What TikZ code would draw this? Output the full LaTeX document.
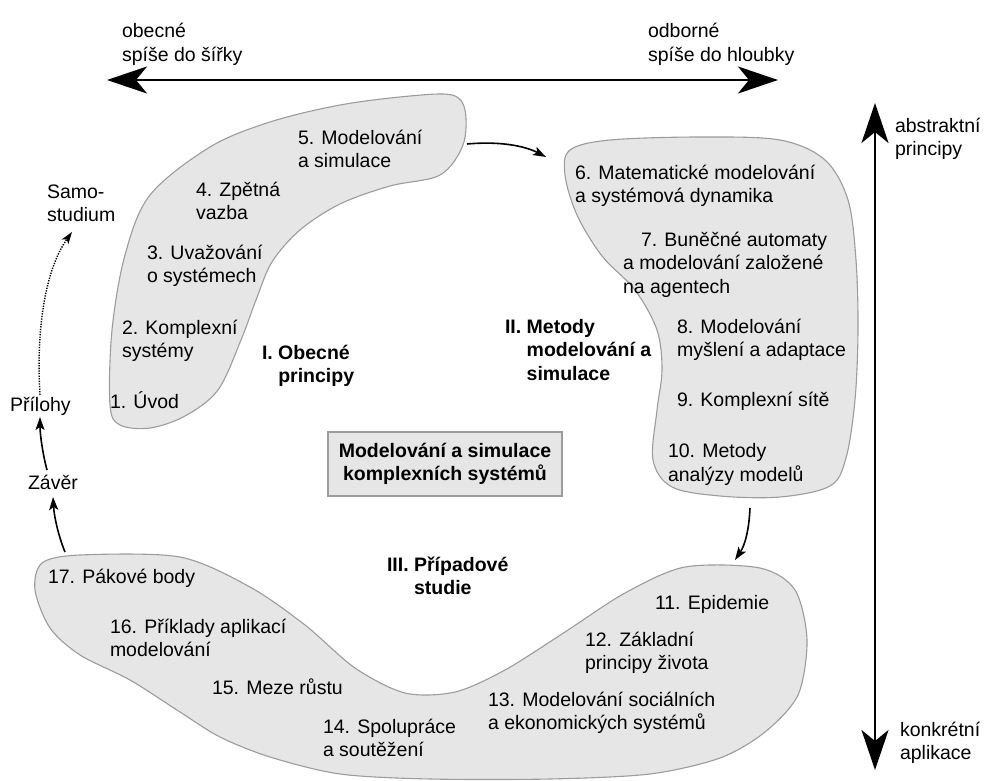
\documentclass[tikz,border=0pt]{standalone}
\usepackage{fontspec}
\setmainfont{Liberation Sans}
\usetikzlibrary{arrows.meta}
\definecolor{blobfill}{HTML}{E6E6E6}
\definecolor{blobline}{HTML}{9C9C9C}
\begin{document}
\begin{tikzpicture}[x=1pt,y=-1pt,
  every node/.style={inner sep=0pt, outer sep=0pt, font=\fontsize{19.5}{23.5}\selectfont},
  lbl/.style={anchor=base west, align=left},
  part/.style={anchor=base west, align=left, font=\fontsize{19.5}{23.5}\selectfont\bfseries},
  blob/.style={fill=blobfill, draw=blobline, line width=1.1pt},
  axis/.style={line width=2.6pt, {Stealth[length=40pt,width=27pt,inset=11pt]}-{Stealth[length=40pt,width=27pt,inset=11pt]}},
  flow/.style={line width=1.6pt, -{Stealth[length=13pt,width=9pt,inset=3pt]}},
  dotflow/.style={line width=1.4pt, dash pattern=on 1.3pt off 1.3pt, -{Stealth[length=12pt,width=8pt,inset=3pt]}}
]
\useasboundingbox (0,0) rectangle (990,781);

% blobs
\path[blob] plot[smooth cycle, tension=0.55] coordinates {
 (150,195) (210,147) (270,122) (340,105) (410,96) (452,95) (465,110) (463,145)
 (440,175) (390,186) (340,204) (300,230) (272,262) (256,300) (241,340) (218,390)
 (185,416) (150,428) (120,425) (110,405) (112,330) (125,255)};
\path[blob] plot[smooth cycle, tension=0.55] coordinates {
 (570,150) (610,140) (700,137) (780,140) (825,160) (848,200) (856,260) (858,330)
 (855,400) (846,458) (830,486) (780,497) (720,496) (672,487) (653,460) (657,410)
 (662,370) (657,330) (635,290) (602,256) (577,215) (565,175)};
\path[blob] plot[smooth cycle, tension=0.5] coordinates {
 (42,563) (80,555) (180,557) (250,587) (305,625) (355,668) (405,693) (455,692)
 (505,670) (565,632) (625,593) (685,567) (760,568) (795,590) (807,640) (798,695)
 (765,732) (720,758) (650,774) (550,779) (430,779) (340,774) (270,757) (220,737)
 (180,712) (130,680) (80,655) (50,628) (35,590)};

% centre box
\node[draw=blobline, fill=blobfill, line width=1.1pt, minimum width=234pt, minimum height=64pt,
      align=center, font=\fontsize{19.5}{23.5}\selectfont\bfseries] (title) at (445,464)
  {Modelování a simulace\\komplexních systémů};

% axes
\coordinate (hl) at (107,80); \coordinate (hr) at (778,80);
\coordinate (vt) at (875,103); \coordinate (vb) at (875,770);
\draw[axis] (hl) -- (hr);
\draw[axis] (vt) -- (vb);
\node[lbl] (obec) at (122,61.5) {obecné\\spíše do šířky};
\node[lbl] (odb) at (648,61.5) {odborné\\spíše do hloubky};
\node[lbl] (abs) at (895,155.5) {abstraktní\\principy};
\node[lbl] (konk) at (900,759.5) {konkrétní\\aplikace};

% chapter labels (base = baseline of last line)
\node[lbl] (c1) at (110,408) {1. Úvod};
\node[lbl] (c2) at (122,357.5) {2. Komplexní\\systémy};
\node[lbl] (c3) at (147,282.5) {3. Uvažování\\o systémech};
\node[lbl] (c4) at (196,219.5) {4. Zpětná\\vazba};
\node[lbl] (c5) at (298,167.5) {5. Modelování\\a simulace};
\node[lbl] (c6) at (575,202.5) {6. Matematické modelování\\a systémová dynamika};
\node[lbl] (c7) at (623,293) {\hspace*{18pt}7. Buněčné automaty\\a modelování založené\\na agentech};
\node[lbl] (c8) at (677,356.5) {8. Modelování\\myšlení a adaptace};
\node[lbl] (c9) at (677,406) {9. Komplexní sítě};
\node[lbl] (c10) at (668,481) {10. Metody\\analýzy modelů};
\node[lbl] (c11) at (655,609) {11. Epidemie};
\node[lbl] (c12) at (585,669.5) {12. Základní\\principy života};
\node[lbl] (c13) at (488,729.5) {13. Modelování sociálních\\a ekonomických systémů};
\node[lbl] (c14) at (323,756.5) {14. Spolupráce\\a soutěžení};
\node[lbl] (c15) at (212,694) {15. Meze růstu};
\node[lbl] (c16) at (110,656.5) {16. Příklady aplikací\\modelování};
\node[lbl] (c17) at (48,583) {17. Pákové body};

% part labels
\node[part] (p1) at (262,382.5) {I. Obecné\\\phantom{I. }principy};
\node[part] (p2) at (505,380) {II. Metody\\\phantom{II. }modelování a\\\phantom{II. }simulace};
\node[part] (p3) at (387,594.5) {III. Případové\\\phantom{III. }studie};

% left column
\node[lbl] (samo) at (47,221.5) {Samo-\\studium};
\node[lbl] (pril) at (10,411) {Přílohy};
\node[lbl] (zav) at (28,489) {Závěr};

% connectors
\coordinate (a5) at (467,144); \coordinate (a6) at (546,157);
\draw[flow] (a5) .. controls (500,141) and (525,146) .. (a6);
\coordinate (a10) at (750,508); \coordinate (a11) at (735,560);
\draw[flow] (a10) .. controls (749,530) and (745,545) .. (a11);
\coordinate (a17) at (65,552); \coordinate (azt) at (53,497);
\draw[flow] (a17) .. controls (58,535) and (54,515) .. (azt);
\coordinate (azb) at (47,470); \coordinate (apb) at (40,417);
\draw[flow] (azb) .. controls (43,455) and (40,435) .. (apb);
\coordinate (apt) at (40,395); \coordinate (ast) at (72,232);
\draw[dotflow] (apt) .. controls (36,330) and (45,270) .. (ast);
\end{tikzpicture}
\end{document}
